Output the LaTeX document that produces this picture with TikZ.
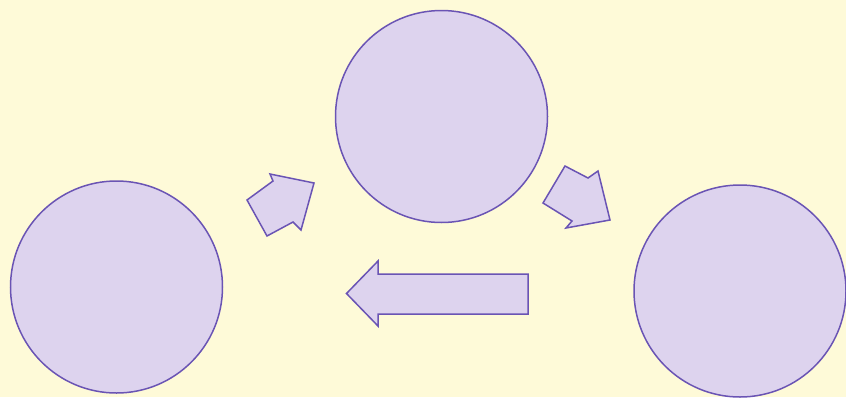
\documentclass[tikz,border=0pt]{standalone}
\definecolor{bgc}{HTML}{FEFAD8}
\definecolor{fillc}{HTML}{DDD3EE}
\definecolor{linec}{HTML}{6A54B4}
\begin{document}
\begin{tikzpicture}[x=1pt,y=-1pt,
  stage/.style={circle, draw=linec, fill=fillc, line width=1.5pt, minimum size=212pt, inner sep=0pt},
  blockarrow/.style={draw=linec, fill=fillc, line width=1.5pt, line join=miter}]
\useasboundingbox (0,0) rectangle (846,397);
\clip (0,0) rectangle (846,397);
\fill[bgc] (0,0) rectangle (846,397);
\node[stage] (left) at (116.5,287) {};
\node[stage] (top) at (441.5,116.5) {};
\node[stage] (right) at (740,291) {};
\draw[blockarrow] (247,200) -- (273,181) -- (270,174) -- (314,183) -- (301,230) -- (293,222) -- (267,236) -- cycle;
\draw[blockarrow] (565,166) -- (588,178) -- (598,171) -- (610,220) -- (566,228) -- (572,221) -- (543,203) -- cycle;
\draw[blockarrow] (346.5,293.5) -- (378,261) -- (378,274) -- (528,274) -- (528,314) -- (378,314) -- (378,326) -- cycle;
\end{tikzpicture}
\end{document}
